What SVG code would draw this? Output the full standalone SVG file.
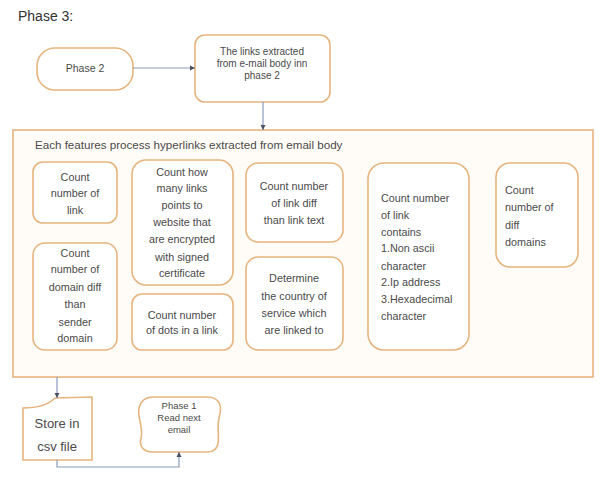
<svg xmlns="http://www.w3.org/2000/svg" width="600" height="480" viewBox="0 0 600 480">
<defs>
<marker id="ah" markerWidth="6" markerHeight="6" refX="5" refY="3" orient="auto" markerUnits="userSpaceOnUse">
<path d="M0,0.5 L5,3 L0,5.5 Z" fill="#4a5060"/>
</marker>
<style>
.box{fill:#ffffff;stroke:#e6b47e;stroke-width:1.6}
.big{fill:#fffcf7;stroke:#e6b47e;stroke-width:1.6}
.t{font-family:"Liberation Sans",Arial,sans-serif;font-size:10.8px;fill:#4a4a4a}
.c{text-anchor:middle}
.conn{fill:none;stroke:#8a9cbc;stroke-width:1.2}
</style>
</defs>
<rect width="600" height="480" fill="#ffffff"/>
<text x="18" y="21" class="t" style="font-size:14px;fill:#333">Phase 3:</text>

<g id="n-phase2">
<rect class="box" x="37" y="48" width="96" height="42" rx="18"/>
<text class="t c" x="85" y="72" style="font-size:10.5px">Phase 2</text>
</g>
<g id="n-links">
<rect class="box" x="195" y="35" width="135" height="67" rx="10"/>
<text class="t c" x="262" y="55" style="font-size:10px">The links extracted</text>
<text class="t c" x="262" y="67" style="font-size:10px">from e-mail body inn</text>
<text class="t c" x="262" y="79" style="font-size:10px">phase 2</text>
</g>
<g id="n-features">
<rect class="big" x="13" y="130" width="580" height="247"/>
<text class="t" x="35" y="149" style="font-size:11.6px">Each features process hyperlinks extracted from email body</text>
</g>
<g id="n-b1">
<rect class="box" x="33" y="162" width="84" height="61" rx="10"/>
<text class="t c" x="75" y="181">Count</text>
<text class="t c" x="75" y="197">number of</text>
<text class="t c" x="75" y="214">link</text>
</g>
<g id="n-b2">
<rect class="box" x="33" y="243" width="84" height="107" rx="12"/>
<text class="t c" x="75" y="257">Count</text>
<text class="t c" x="75" y="273">number of</text>
<text class="t c" x="75" y="291">domain diff</text>
<text class="t c" x="75" y="308">than</text>
<text class="t c" x="75" y="326">sender</text>
<text class="t c" x="75" y="342">domain</text>
</g>
<g id="n-b3">
<rect class="box" x="132" y="160" width="101" height="125" rx="14"/>
<text class="t c" x="182" y="176">Count how</text>
<text class="t c" x="182" y="192">many links</text>
<text class="t c" x="182" y="209">points to</text>
<text class="t c" x="182" y="226">website that</text>
<text class="t c" x="182" y="243">are encrypted</text>
<text class="t c" x="182" y="261">with signed</text>
<text class="t c" x="182" y="277">certificate</text>
</g>
<g id="n-b4">
<rect class="box" x="132" y="294" width="101" height="56" rx="10"/>
<text class="t c" x="182" y="319">Count number</text>
<text class="t c" x="182" y="334">of dots in a link</text>
</g>
<g id="n-b5">
<rect class="box" x="246" y="163" width="97" height="79" rx="12"/>
<text class="t c" x="294" y="190">Count number</text>
<text class="t c" x="294" y="207">of link diff</text>
<text class="t c" x="294" y="224">than link text</text>
</g>
<g id="n-b6">
<rect class="box" x="246" y="257" width="97" height="93" rx="12"/>
<text class="t c" x="294" y="282">Determine</text>
<text class="t c" x="294" y="300">the country of</text>
<text class="t c" x="294" y="317">service which</text>
<text class="t c" x="294" y="334">are linked to</text>
</g>
<g id="n-b7">
<rect class="box" x="368" y="163" width="101" height="187" rx="16"/>
<text class="t" x="381" y="202">Count number</text>
<text class="t" x="381" y="219">of link</text>
<text class="t" x="381" y="236">contains</text>
<text class="t" x="381" y="252">1.Non ascii</text>
<text class="t" x="381" y="270">character</text>
<text class="t" x="381" y="286">2.Ip address</text>
<text class="t" x="381" y="303">3.Hexadecimal</text>
<text class="t" x="381" y="320">character</text>
</g>
<g id="n-b8">
<rect class="box" x="496" y="163" width="82" height="104" rx="14"/>
<text class="t" x="505" y="194">Count</text>
<text class="t" x="505" y="211">number of</text>
<text class="t" x="505" y="229">diff</text>
<text class="t" x="505" y="246">domains</text>
</g>
<g id="n-store">
<path class="box" d="M23,408 Q45,408 55,398 L92,397 L92,460 L23,460 Z"/>
<text class="t c" x="57" y="428" style="font-size:13px">Store in</text>
<text class="t c" x="57" y="451" style="font-size:13px">csv file</text>
</g>
<g id="n-phase1">
<path class="box" d="M153,397 H207 C219,397 223,405 219,418 C216,430 222,445 214,450 C212,452 210,452 207,452 H153 C143,452 139,446 141,438 C144,428 137,418 139,408 C141,400 146,397 153,397 Z"/>
<text class="t c" x="179" y="409" style="font-size:9.5px">Phase 1</text>
<text class="t c" x="179" y="421" style="font-size:9.5px">Read next</text>
<text class="t c" x="179" y="433" style="font-size:9.5px">email</text>
</g>

<g id="connectors">
<path class="conn" d="M133,68 H195" marker-end="url(#ah)"/>
<path class="conn" d="M263,102 V130" marker-end="url(#ah)"/>
<path class="conn" d="M57,377 V398" marker-end="url(#ah)"/>
<path class="conn" d="M57,460 V467 H179 V452" marker-end="url(#ah)"/>
</g>
</svg>
